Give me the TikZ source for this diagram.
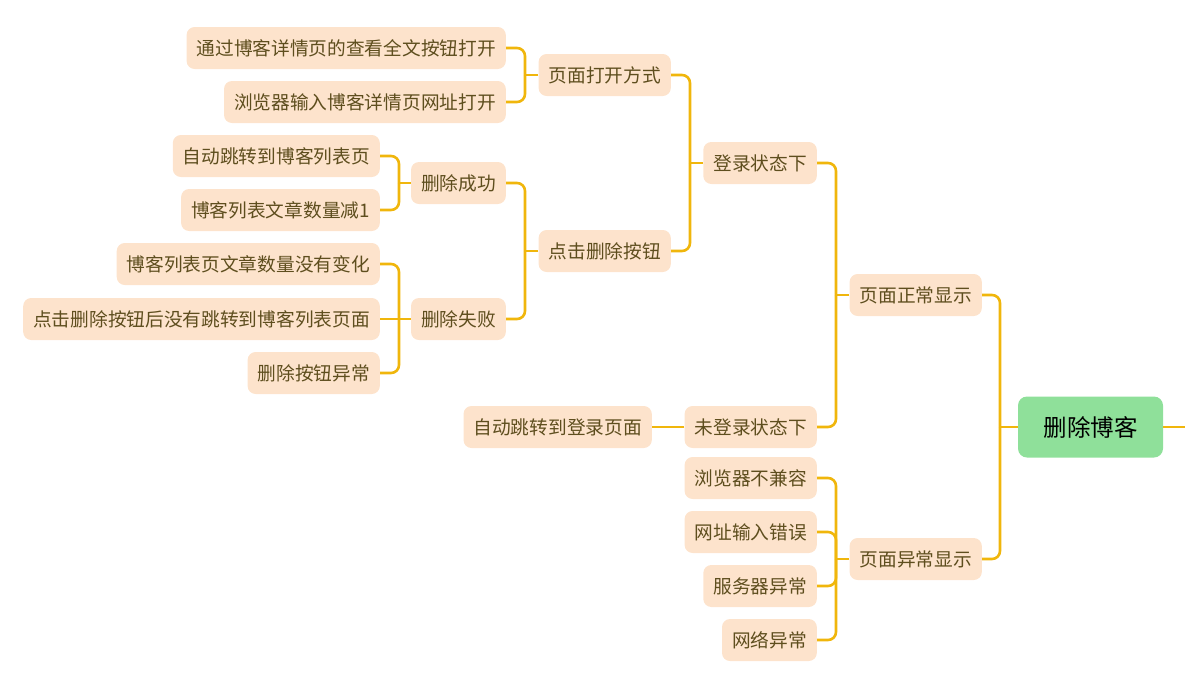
\documentclass[tikz,border=0pt]{standalone}
\usepackage{fontspec}
\setmainfont{Noto Sans CJK SC}
\definecolor{peach}{HTML}{FDE3CC}
\definecolor{txt}{HTML}{5E4E1E}
\definecolor{link}{HTML}{F0B60C}
\definecolor{rootg}{HTML}{8FE09A}
\tikzset{
  box/.style={fill=peach, rounded corners=8pt, minimum height=42pt, inner xsep=10pt, inner ysep=0pt,
    font=\fontsize{18.7}{20}\selectfont, text=txt, anchor=east},
  rootbox/.style={fill=rootg, rounded corners=9pt, minimum height=61pt, minimum width=145pt,
    font=\fontsize{23.5}{26}\selectfont, text=black},
  conn/.style={draw=link, line width=2.6pt, rounded corners=8pt},
  trunk/.style={draw=link, line width=2.6pt},
}
\begin{document}
\begin{tikzpicture}[x=1pt,y=-1pt]
\useasboundingbox (0,0) rectangle (1185,686);
% root
\node[rootbox] (root) at (1090.5,427) {删除博客};
\coordinate (rootout) at (1185,427);
% level 1
\node[box] (normal) at (982,295) {页面正常显示};
\node[box] (abn) at (982,559) {页面异常显示};
% level 2
\node[box] (login) at (817,163) {登录状态下};
\node[box] (nologin) at (817,427) {未登录状态下};
\node[box] (b1) at (817,478) {浏览器不兼容};
\node[box] (b2) at (817,532) {网址输入错误};
\node[box] (b3) at (817,586) {服务器异常};
\node[box] (b4) at (817,640) {网络异常};
% level 3
\node[box] (open) at (671,75) {页面打开方式};
\node[box] (click) at (671,251) {点击删除按钮};
\node[box] (jumplogin) at (652,427) {自动跳转到登录页面};
% level 4
\node[box] (o1) at (506,48) {通过博客详情页的查看全文按钮打开};
\node[box] (o2) at (506,102) {浏览器输入博客详情页网址打开};
\node[box] (succ) at (506,183) {删除成功};
\node[box] (fail) at (506,319) {删除失败};
% level 5
\node[box] (s1) at (380,156) {自动跳转到博客列表页};
\node[box] (s2) at (380,210) {博客列表文章数量减1};
\node[box] (f1) at (380,264) {博客列表页文章数量没有变化};
\node[box] (f2) at (380,319) {点击删除按钮后没有跳转到博客列表页面};
\node[box] (f3) at (380,373) {删除按钮异常};
% junction points
\coordinate (jr) at (1000,427);
\coordinate (jn) at (836,295);
\coordinate (ja) at (836,559);
\coordinate (jl) at (690,163);
\coordinate (jo) at (525,75);
\coordinate (jc) at (525,251);
\coordinate (js) at (399,183);
\coordinate (jf) at (399,319);
% connectors
\draw[trunk] (root.east) -- (rootout);
\draw[trunk] (root.west) -- (jr);
\foreach \c in {normal,abn} \draw[conn] (jr) |- (\c.east);
\draw[trunk] (normal.west) -- (jn);
\foreach \c in {login,nologin} \draw[conn] (jn) |- (\c.east);
\draw[trunk] (abn.west) -- (ja);
\foreach \c in {b1,b2,b3,b4} \draw[conn] (ja) |- (\c.east);
\draw[trunk] (login.west) -- (jl);
\foreach \c in {open,click} \draw[conn] (jl) |- (\c.east);
\draw[trunk] (nologin.west) -- (jumplogin.east);
\draw[trunk] (open.west) -- (jo);
\foreach \c in {o1,o2} \draw[conn] (jo) |- (\c.east);
\draw[trunk] (click.west) -- (jc);
\foreach \c in {succ,fail} \draw[conn] (jc) |- (\c.east);
\draw[trunk] (succ.west) -- (js);
\foreach \c in {s1,s2} \draw[conn] (js) |- (\c.east);
\draw[trunk] (fail.west) -- (jf);
\foreach \c in {f1,f3} \draw[conn] (jf) |- (\c.east);
\draw[trunk] (jf) -- (f2.east);
\end{tikzpicture}
\end{document}
